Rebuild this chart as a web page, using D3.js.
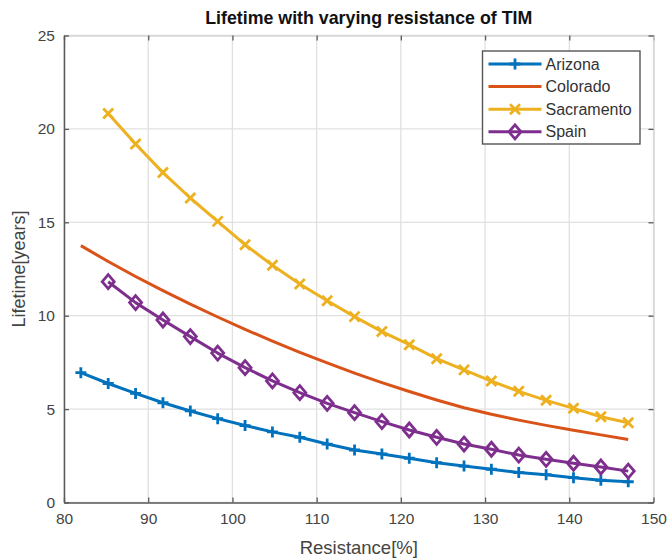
<!DOCTYPE html>
<html>
<head>
<meta charset="utf-8">
<script src="https://cdn.jsdelivr.net/npm/d3@7/dist/d3.min.js"></script>
<style>
  html, body { margin: 0; padding: 0; background: #fff; }
  svg { display: block; font-family: "Liberation Sans", Arial, Helvetica, sans-serif; }
</style>
</head>
<body>
<svg id="chart" width="669" height="559"></svg>
<script>
// Resistance values (%) at which lifetime was evaluated
const resistance = [82, 85.25, 88.5, 91.75, 95, 98.25, 101.5, 104.75, 108, 111.25,
  114.5, 117.75, 121, 124.25, 127.5, 130.75, 134, 137.25, 140.5, 143.75, 147];

// Lifetime in years for each site
const arizona = [6.95, 6.37, 5.84, 5.34, 4.9, 4.49, 4.12, 3.78, 3.49, 3.13,
  2.81, 2.6, 2.37, 2.13, 1.95, 1.78, 1.6, 1.49, 1.33, 1.19, 1.11];
const colorado = [13.75, 12.9, 12.1, 11.34, 10.62, 9.93, 9.27, 8.64, 8.04, 7.47,
  6.93, 6.42, 5.94, 5.49, 5.07, 4.72, 4.41, 4.13, 3.87, 3.62, 3.37];
// Sacramento and Spain start at the second resistance value
const sacramento = [null, 20.83, 19.19, 17.66, 16.3, 15.05, 13.8, 12.7, 11.7, 10.8,
  9.95, 9.15, 8.45, 7.7, 7.1, 6.5, 5.95, 5.47, 5.04, 4.59, 4.27];
const spain = [null, 11.82, 10.7, 9.77, 8.88, 8.0, 7.22, 6.51, 5.88, 5.31,
  4.81, 4.33, 3.88, 3.49, 3.13, 2.85, 2.54, 2.31, 2.1, 1.9, 1.68];

const seriesNames = ["Arizona", "Colorado", "Sacramento", "Spain"];
const seriesColors = ["#0072BD", "#D95319", "#EDB120", "#7E2F8E"];
const seriesMarkers = ["plus", "none", "cross", "diamond"];

const xTicks = [80, 90, 100, 110, 120, 130, 140, 150];
const yTicks = [0, 5, 10, 15, 20, 25];

const titleText = "Lifetime with varying resistance of TIM";
const xLabel = "Resistance[%]";
const yLabel = "Lifetime[years]";

const seriesValues = [arizona, colorado, sacramento, spain];
const series = seriesNames.map((name, i) => ({
  name,
  color: seriesColors[i],
  marker: seriesMarkers[i],
  points: resistance.map((r, j) => ({ x: r, y: seriesValues[i][j] })).filter(p => p.y != null)
}));

const svg = d3.select("#chart");
const plot = { left: 64, right: 653.5, top: 35.5, bottom: 502.5 };

const x = d3.scaleLinear().domain([80, 150]).range([plot.left, plot.right]);
const y = d3.scaleLinear().domain([0, 25]).range([plot.bottom, plot.top]);

const axisColor = "#5a5a5a";
const textColor = "#444";

// Grid
const grid = svg.append("g");
grid.selectAll("line.vx").data(xTicks).join("line")
  .attr("x1", d => x(d)).attr("x2", d => x(d))
  .attr("y1", plot.top).attr("y2", plot.bottom)
  .attr("stroke", "#e0e0e0").attr("stroke-width", 1.3);
grid.selectAll("line.hy").data(yTicks).join("line")
  .attr("x1", plot.left).attr("x2", plot.right)
  .attr("y1", d => y(d)).attr("y2", d => y(d))
  .attr("stroke", "#e0e0e0").attr("stroke-width", 1.3);

// Axes with inward ticks
const xAxis = d3.axisBottom(x).tickValues(xTicks).tickSizeInner(-5).tickSizeOuter(0).tickPadding(10);
const yAxis = d3.axisLeft(y).tickValues(yTicks).tickSizeInner(-5).tickSizeOuter(0).tickPadding(9);
const xTop = d3.axisTop(x).tickValues(xTicks).tickSizeInner(-5).tickSizeOuter(0).tickFormat("");
const yRight = d3.axisRight(y).tickValues(yTicks).tickSizeInner(-5).tickSizeOuter(0).tickFormat("");

function styleAxis(g) {
  g.select(".domain").attr("stroke", axisColor).attr("stroke-width", 1.5);
  g.selectAll(".tick line").attr("stroke", axisColor).attr("stroke-width", 1.3);
  g.selectAll(".tick text").attr("fill", textColor).attr("font-size", 15.5);
}

svg.append("g").attr("transform", `translate(0,${plot.top})`).call(xTop).call(styleAxis)
  .select(".domain").attr("stroke", "#d6d6d6");
svg.append("g").attr("transform", `translate(${plot.right},0)`).call(yRight).call(styleAxis)
  .select(".domain").attr("stroke", "#d6d6d6");
svg.append("g").attr("transform", `translate(0,${plot.bottom})`).call(xAxis).call(styleAxis);
svg.append("g").attr("transform", `translate(${plot.left},0)`).call(yAxis).call(styleAxis);

// Marker shapes
function markerPath(type) {
  if (type === "plus") return "M-5.5,0H5.5M0,-5.5V5.5";
  if (type === "cross") return "M-5,-5L5,5M-5,5L5,-5";
  if (type === "diamond") return "M0,-7L6,0L0,7L-6,0Z";
  return null;
}

const line = d3.line().x(d => x(d.x)).y(d => y(d.y)).curve(d3.curveLinear);

const marks = svg.append("g");
series.forEach(s => {
  marks.append("path")
    .datum(s.points)
    .attr("d", line)
    .attr("fill", "none")
    .attr("stroke", s.color)
    .attr("stroke-width", 3)
    .attr("stroke-linejoin", "round");
  const mp = markerPath(s.marker);
  if (mp) {
    marks.selectAll(null).data(s.points).join("path")
      .attr("transform", d => `translate(${x(d.x)},${y(d.y)})`)
      .attr("d", mp)
      .attr("fill", "none")
      .attr("stroke", s.color)
      .attr("stroke-width", 2.8);
  }
});

// Title and axis labels
svg.append("text")
  .attr("x", (plot.left + plot.right) / 2 + 10).attr("y", 23.5)
  .attr("text-anchor", "middle").attr("font-size", 17.8).attr("font-weight", "bold")
  .attr("fill", "#111").text(titleText);

svg.append("text")
  .attr("x", (plot.left + plot.right) / 2).attr("y", 554)
  .attr("text-anchor", "middle").attr("font-size", 18.5).attr("fill", textColor)
  .text(xLabel);

svg.append("text")
  .attr("transform", `translate(25,${(plot.top + plot.bottom) / 2}) rotate(-90)`)
  .attr("text-anchor", "middle").attr("font-size", 18).attr("fill", textColor)
  .text(yLabel);

// Legend
const legend = svg.append("g").attr("transform", "translate(482.5,51)");
legend.append("rect")
  .attr("width", 157.5).attr("height", 93)
  .attr("fill", "#fff").attr("stroke", "#555").attr("stroke-width", 1.4);
series.forEach((s, i) => {
  const row = legend.append("g").attr("transform", `translate(0,${13 + i * 22.6})`);
  row.append("line").attr("x1", 6).attr("x2", 59).attr("y1", 0).attr("y2", 0)
    .attr("stroke", s.color).attr("stroke-width", 3);
  const mp = markerPath(s.marker);
  if (mp) {
    row.append("path").attr("transform", "translate(32.5,0)").attr("d", mp)
      .attr("fill", "none").attr("stroke", s.color).attr("stroke-width", 2.8);
  }
  row.append("text").attr("x", 63).attr("y", 5.5).attr("font-size", 16)
    .attr("fill", "#333").text(s.name);
});
</script>
</body>
</html>
